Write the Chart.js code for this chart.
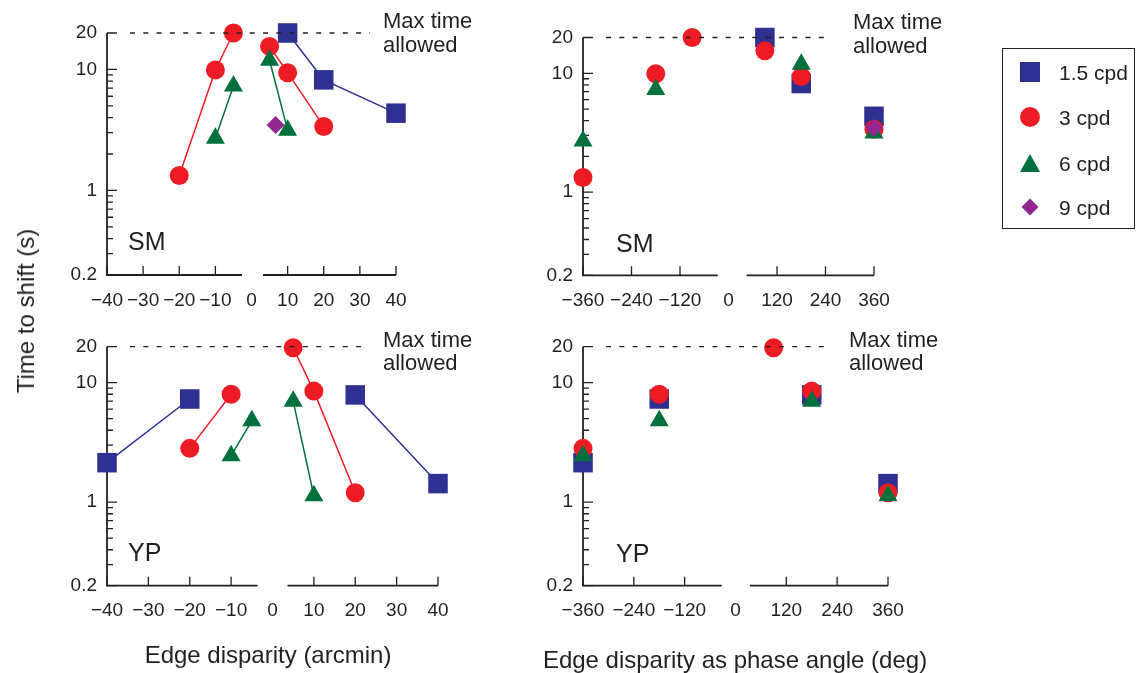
<!DOCTYPE html>
<html>
<head>
<meta charset="utf-8">
<script src="https://cdn.jsdelivr.net/npm/chart.js@4.4.0/dist/chart.umd.min.js"></script>
<style>
  body { margin: 0; background: #fff; width: 1136px; height: 673px; overflow: hidden; position: relative;
         font-family: "Liberation Sans", Arial, Helvetica, sans-serif; color: #231f20; }
  canvas { position: absolute; left: 0; top: 0; }
  .txt { position: absolute; white-space: nowrap; line-height: 1; }
  #ytitle { left: 26px; top: 311px; font-size: 24px; transform: translate(-50%, -50%) rotate(-90deg); }
  #xtitle1 { left: 268px; top: 655px; font-size: 24px; transform: translate(-50%, -50%); }
  #xtitle2 { left: 735px; top: 660px; font-size: 24px; transform: translate(-50%, -50%); }
  #legend { position: absolute; left: 1002px; top: 48px; width: 131px; height: 179px; border: 1.5px solid #231f20; }
  .item { position: absolute; left: 0; height: 24px; width: 131px; }
  .item span { position: absolute; left: 56px; top: 1px; font-size: 21px; }
  .mk { position: absolute; }
</style>
</head>
<body>
<canvas id="c0" width="1136" height="673"></canvas>
<canvas id="c1" width="1136" height="673"></canvas>
<canvas id="c2" width="1136" height="673"></canvas>
<canvas id="c3" width="1136" height="673"></canvas>

<div class="txt" id="ytitle">Time to shift (s)</div>
<div class="txt" id="xtitle1">Edge disparity (arcmin)</div>
<div class="txt" id="xtitle2">Edge disparity as phase angle (deg)</div>
<div id="legend"></div>

<script>
const AXIS = '#231f20';
const FONT = '"Liberation Sans", Arial, Helvetica, sans-serif';

const seriesNames = ['1.5 cpd', '3 cpd', '6 cpd', '9 cpd'];
const colors = ['#2e3192', '#ed1c24', '#00703c', '#92278f'];
const shapes = ['rect', 'circle', 'triangle', 'rectRot'];
const radii = [13.8, 9.5, 11, 9];

// subject SM
const smArc15 = [10, 20, 40];
const smPhase15 = [90, 180, 360];
const smTime15 = [20, 8.2, 4.35];
const smArc3 = [-20, -10, -5, 5, 10, 20];
const smPhase3 = [-360, -180, -90, 90, 180, 360];
const smTime3 = [1.33, 9.9, 20, 15.5, 9.4, 3.38];
const smArc6 = [-10, -5, 5, 10];
const smPhase6 = [-360, -180, 180, 360];
const smTime6 = [2.7, 7.3, 11.9, 3.15];
const smArc9 = [6.67];
const smPhase9 = [360];
const smTime9 = [3.48];

// subject YP
const ypArc15 = [-40, -20, 20, 40];
const ypPhase15 = [-360, -180, 180, 360];
const ypTime15 = [2.14, 7.3, 7.9, 1.43];
const ypArc3 = [-20, -10, 5, 10, 20];
const ypPhase3 = [-360, -180, 90, 180, 360];
const ypTime3 = [2.82, 8.0, 19.6, 8.5, 1.2];
const ypArc6 = [-10, -5, 5, 10];
const ypPhase6 = [-360, -180, 180, 360];
const ypTime6 = [2.45, 4.8, 7.0, 1.13];

const arcTicks = [-40, -30, -20, -10, 0, 10, 20, 30, 40];
const phaseTicks = [-360, -240, -120, 0, 120, 240, 360];
const yTicks = [0.2, 1, 10, 20];
const yMinorTicks = [0.3, 0.4, 0.5, 0.6, 0.7, 0.8, 0.9, 2, 3, 4, 5, 6, 7, 8, 9];
const maxTime = 20;

const subjects = {
  SM: {
    arc: [smArc15, smArc3, smArc6, smArc9],
    phase: [smPhase15, smPhase3, smPhase6, smPhase9],
    time: [smTime15, smTime3, smTime6, smTime9]
  },
  YP: {
    arc: [ypArc15, ypArc3, ypArc6, []],
    phase: [ypPhase15, ypPhase3, ypPhase6, []],
    time: [ypTime15, ypTime3, ypTime6, []]
  }
};

// layout of each panel: chart area [left, right, top, bottom], axis break, text spots
const panels = [
  { subj: 'SM', mode: 'arc', area: [107, 396, 33, 275], brk: [-2.6, 3.2], dashEnd: 370, maxTxt: [383, 22, 46], subjPos: [128, 243] },
  { subj: 'SM', mode: 'phase', area: [583, 874, 37.5, 275.3], brk: [-26.7, 45], dashEnd: 830, maxTxt: [853, 23, 47], subjPos: [616, 245] },
  { subj: 'YP', mode: 'arc', area: [107, 438, 346.7, 585.7], brk: [-3.6, 3.6], dashEnd: 368, maxTxt: [383, 341, 364], subjPos: [128, 554] },
  { subj: 'YP', mode: 'phase', area: [583, 888, 346.7, 585.7], brk: [-32.6, 34], dashEnd: 829, maxTxt: [849, 341, 364], subjPos: [616, 555] }
];

const Y_W = 80, X_H = 40;

function makePoints(xs, ts, withGap) {
  const out = [];
  xs.forEach((x, i) => {
    if (withGap && i > 0 && xs[i - 1] < 0 && x > 0) out.push({ x: 0, y: null });
    out.push({ x: x, y: ts[i] });
  });
  return out;
}

function fmt(v) {
  return v < 0 ? '\u2212' + Math.abs(v) : String(v);
}

const decor = {
  id: 'decor',
  beforeDatasetsDraw(chart) {
    const p = chart.options.plugins.decor;
    const ctx = chart.ctx, xs = chart.scales.x, ys = chart.scales.y, a = chart.chartArea;
    ctx.save();
    ctx.strokeStyle = AXIS;
    ctx.lineCap = 'butt';
    ctx.lineWidth = 1.8;
    ctx.beginPath();
    ctx.moveTo(a.left, ys.getPixelForValue(maxTime));
    ctx.lineTo(a.left, a.bottom);
    ctx.lineTo(xs.getPixelForValue(p.brk[0]), a.bottom);
    ctx.moveTo(xs.getPixelForValue(p.brk[1]), a.bottom);
    ctx.lineTo(a.right, a.bottom);
    ctx.stroke();

    ctx.lineWidth = 1.3;
    ctx.beginPath();
    p.ticks.forEach(v => {
      if (v === 0) return;
      const x = xs.getPixelForValue(v);
      ctx.moveTo(x, a.bottom);
      ctx.lineTo(x, a.bottom - 9);
    });
    yTicks.forEach(v => {
      const y = ys.getPixelForValue(v);
      ctx.moveTo(a.left, y);
      ctx.lineTo(a.left + 10, y);
    });
    yMinorTicks.forEach(v => {
      const y = ys.getPixelForValue(v);
      ctx.moveTo(a.left, y);
      ctx.lineTo(a.left + 6, y);
    });
    ctx.stroke();

    ctx.fillStyle = AXIS;
    ctx.font = '25px ' + FONT;
    ctx.textBaseline = 'middle';
    ctx.textAlign = 'left';
    ctx.fillText(p.subj, p.subjPos[0], p.subjPos[1]);

    ctx.font = '22px ' + FONT;
    ctx.fillText('Max time', p.maxTxt[0], p.maxTxt[1]);
    ctx.fillText('allowed', p.maxTxt[0], p.maxTxt[2]);
    ctx.restore();
  },
  afterDatasetsDraw(chart) {
    const p = chart.options.plugins.decor;
    const ctx = chart.ctx, ys = chart.scales.y, a = chart.chartArea;
    const y = ys.getPixelForValue(maxTime);
    ctx.save();
    ctx.strokeStyle = AXIS;
    ctx.lineWidth = 1.3;
    ctx.setLineDash([5, 8.3]);
    ctx.beginPath();
    ctx.moveTo(a.left + 23, y);
    ctx.lineTo(p.dashEnd, y);
    ctx.stroke();
    ctx.restore();
  }
};

panels.forEach((p, k) => {
  const d = subjects[p.subj];
  const lines = p.mode === 'arc';
  const ticks = lines ? arcTicks : phaseTicks;
  const xLim = lines ? 40 : 360;
  const datasets = seriesNames.map((name, i) => ({
    label: name,
    data: makePoints(d[p.mode][i], d.time[i], lines),
    showLine: lines,
    spanGaps: false,
    borderColor: colors[i],
    borderWidth: 1.5,
    backgroundColor: colors[i],
    pointBackgroundColor: colors[i],
    pointBorderWidth: 0,
    pointStyle: shapes[i],
    pointRadius: radii[i],
    pointHoverRadius: radii[i],
    order: 4 - i,
    clip: false
  }));

  const [l, r, t, b] = p.area;
  new Chart(document.getElementById('c' + k), {
    type: 'scatter',
    data: { datasets },
    plugins: [decor],
    options: {
      responsive: false,
      animation: false,
      events: [],
      layout: { padding: { left: l - Y_W, right: 1136 - r, top: t, bottom: 673 - b - X_H } },
      plugins: {
        legend: { display: false },
        tooltip: { enabled: false },
        decor: Object.assign({ ticks }, p)
      },
      scales: {
        x: {
          type: 'linear',
          min: -xLim, max: xLim,
          bounds: 'data',
          afterBuildTicks: s => { s.ticks = ticks.map(v => ({ value: v })); },
          afterFit: s => { s.height = X_H; },
          grid: { display: false, drawTicks: false },
          border: { display: false },
          ticks: { padding: 14, color: AXIS, font: { family: FONT, size: 19 }, maxRotation: 0, autoSkip: false, callback: v => fmt(v) }
        },
        y: {
          type: 'logarithmic',
          min: 0.2, max: maxTime,
          bounds: 'data',
          afterBuildTicks: s => { s.ticks = yTicks.map(v => ({ value: v })); },
          afterFit: s => { s.width = Y_W; },
          grid: { display: false, drawTicks: false },
          border: { display: false },
          ticks: { padding: 10, color: AXIS, font: { family: FONT, size: 19 }, autoSkip: false, callback: v => String(v) }
        }
      }
    }
  });
});

// legend
const legend = document.getElementById('legend');
const mkHtml = [
  '<div class="mk" style="left:17px;top:2px;width:20px;height:20px;background:' + colors[0] + '"></div>',
  '<div class="mk" style="left:17px;top:2px;width:20px;height:20px;border-radius:50%;background:' + colors[1] + '"></div>',
  '<div class="mk" style="left:17px;top:3px;width:0;height:0;border-left:10px solid transparent;border-right:10px solid transparent;border-bottom:18px solid ' + colors[2] + '"></div>',
  '<div class="mk" style="left:21px;top:6px;width:12px;height:12px;transform:rotate(45deg);background:' + colors[3] + '"></div>'
];
const itemTops = [11, 56, 102, 146];
seriesNames.forEach((name, i) => {
  const div = document.createElement('div');
  div.className = 'item';
  div.style.top = itemTops[i] + 'px';
  div.innerHTML = mkHtml[i] + '<span>' + name + '</span>';
  legend.appendChild(div);
});
</script>
</body>
</html>
